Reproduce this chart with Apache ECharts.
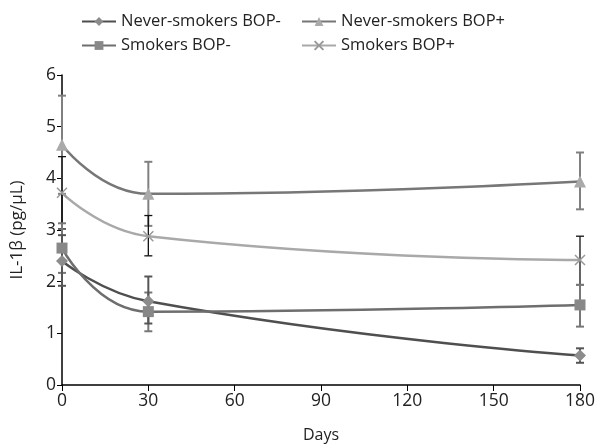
<!DOCTYPE html>
<html><head><meta charset="utf-8">
<script src="https://cdn.jsdelivr.net/npm/echarts@6/dist/echarts.min.js"></script>
<style>html,body{margin:0;padding:0;background:#fff}#c{width:598px;height:448px}</style>
</head><body><div id="c"></div>
<script>
const days = [0, 30, 180];
const seriesNames = ['Never-smokers BOP-', 'Never-smokers BOP+', 'Smokers BOP-', 'Smokers BOP+'];
const neverNeg = [2.4, 1.62, 0.57];
const neverPos = [4.65, 3.7, 3.94];
const smokNeg = [2.65, 1.42, 1.55];
const smokPos = [3.72, 2.88, 2.42];
// error bar low/high
const neverNegLo = [1.92, 1.19, 0.43];
const neverNegHi = [2.9, 2.1, 0.71];
const neverPosLo = [3.7, 3.08, 3.4];
const neverPosHi = [5.6, 4.32, 4.5];
const smokNegLo = [2.17, 1.04, 1.13];
const smokNegHi = [3.13, 1.79, 1.94];
const smokPosLo = [3.02, 2.5, 1.94];
const smokPosHi = [4.42, 3.28, 2.88];
const yTicks = [0, 1, 2, 3, 4, 5, 6];
const xTicks = [0, 30, 60, 90, 120, 150, 180];

const FONT = '"Open Sans", "DejaVu Sans", sans-serif';
const chart = echarts.init(document.getElementById('c'));

function errSeries(lo, hi, color, w) {
  return {
    type: 'custom', silent: true, z: 1,
    data: days.map((d, i) => [d, lo[i], hi[i]]),
    renderItem: function (params, api) {
      const a = api.coord([api.value(0), api.value(1)]);
      const b = api.coord([api.value(0), api.value(2)]);
      const hw = 4;
      const st = { stroke: color, lineWidth: w };
      return { type: 'group', children: [
        { type: 'line', shape: { x1: a[0], y1: a[1], x2: b[0], y2: b[1] }, style: st },
        { type: 'line', shape: { x1: a[0]-hw, y1: a[1], x2: a[0]+hw, y2: a[1] }, style: st },
        { type: 'line', shape: { x1: b[0]-hw, y1: b[1], x2: b[0]+hw, y2: b[1] }, style: st }
      ]};
    }
  };
}
function lineSeries(name, vals, lineColor, symbol, symColor, size, extraItem) {
  return {
    name: name, type: 'line', smooth: 0.5, z: 3,
    data: days.map((d, i) => [d, vals[i]]),
    symbol: symbol, symbolSize: size,
    lineStyle: { color: lineColor, width: 2.5 },
    itemStyle: Object.assign({ color: symColor }, extraItem || {})
  };
}
const xPath = 'path://M0,0L10,10M10,0L0,10';
const legText = { fontFamily: FONT, fontSize: 16.5, color: '#222' };
chart.setOption({
  animation: false,
  grid: { left: 62, right: 16, top: 75, bottom: 61 },
  legend: [
    { data: [seriesNames[0], seriesNames[2]], orient: 'vertical', left: 76, top: 8, itemGap: 7, itemWidth: 34, itemHeight: 11, textStyle: legText },
    { data: [seriesNames[1], seriesNames[3]], orient: 'vertical', left: 296, top: 8, itemGap: 7, itemWidth: 34, itemHeight: 11, textStyle: legText }
  ],
  xAxis: {
    type: 'value', min: 0, max: 180, interval: 30,
    name: 'Days', nameLocation: 'middle', nameGap: 42,
    nameTextStyle: { fontFamily: FONT, fontSize: 16, color: '#222' },
    axisLine: { lineStyle: { color: '#000', width: 1.5 } },
    axisTick: { show: true, length: 6, lineStyle: { color: '#000' } },
    axisLabel: { fontFamily: FONT, fontSize: 17.5, color: '#222', margin: 7, formatter: v => xTicks.includes(v) ? String(v) : '' },
    splitLine: { show: false }
  },
  yAxis: {
    type: 'value', min: 0, max: 6, interval: 1,
    name: 'IL-1β (pg/μL)', nameLocation: 'middle', nameGap: 36, nameRotate: 90,
    nameTextStyle: { fontFamily: FONT, fontSize: 17, color: '#222' },
    axisLine: { show: true, lineStyle: { color: '#000', width: 1.5 } },
    axisTick: { show: true, length: 5, lineStyle: { color: '#000' } },
    axisLabel: { fontFamily: FONT, fontSize: 17.5, color: '#222', margin: 6, formatter: v => yTicks.includes(v) ? String(v) : '' },
    splitLine: { show: false }
  },
  series: [
    errSeries(neverPosLo, neverPosHi, '#808080', 2),
    errSeries(smokPosLo, smokPosHi, '#111', 1.3),
    errSeries(smokNegLo, smokNegHi, '#777', 2),
    errSeries(neverNegLo, neverNegHi, '#555', 2),
    lineSeries(seriesNames[0], neverNeg, '#4f4f4f', 'diamond', '#8c8c8c', 12),
    lineSeries(seriesNames[1], neverPos, '#777', 'triangle', '#aaa', 12),
    lineSeries(seriesNames[2], smokNeg, '#6e6e6e', 'rect', '#888', 11),
    lineSeries(seriesNames[3], smokPos, '#a9a9a9', xPath, 'rgba(0,0,0,0)', 10, { borderColor: '#999', borderWidth: 1.5 })
  ]
});
</script></body></html>
